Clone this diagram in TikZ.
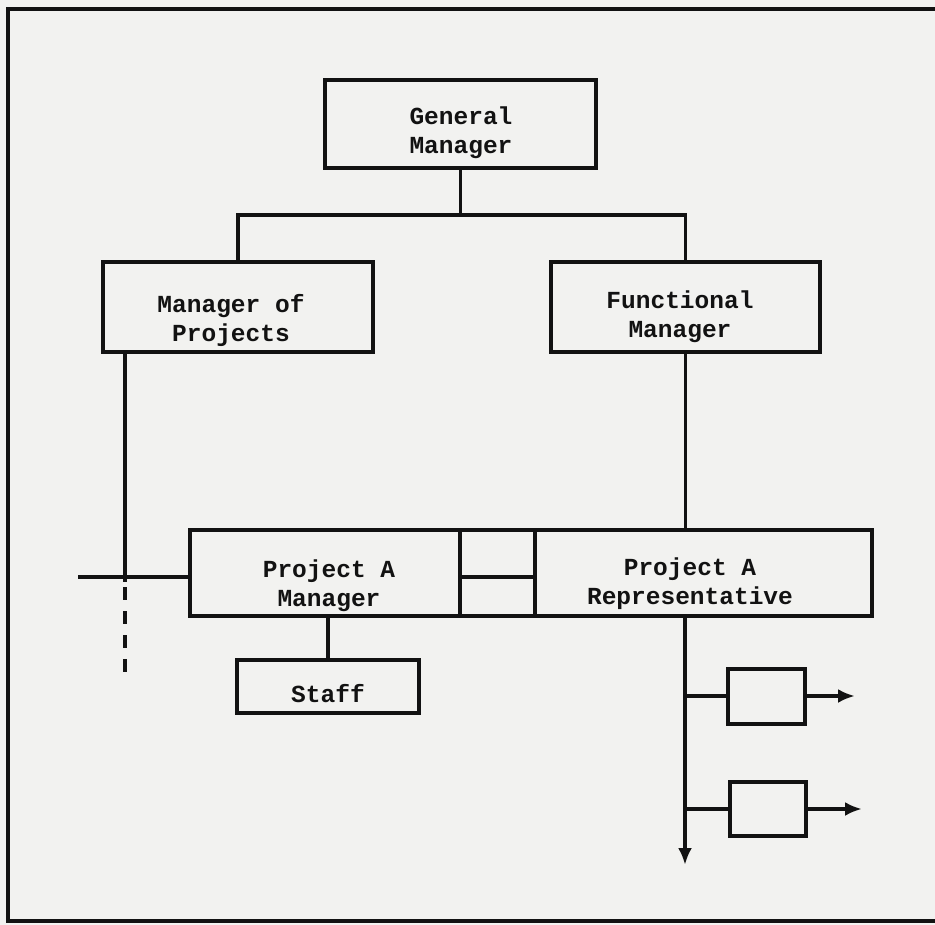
\documentclass[tikz,border=0pt]{standalone}
\usepackage{fontspec}
\setmonofont{Liberation Mono}
\usetikzlibrary{arrows.meta}
\definecolor{paper}{RGB}{242,242,240}
\definecolor{ink}{RGB}{18,18,18}
\tikzset{
	box/.style={draw=ink, line width=4pt, outer sep=0pt},
	txt/.style={font=\ttfamily\bfseries\fontsize{24.5}{29}\selectfont, align=center, text=ink},
	wire/.style={draw=ink, line width=3.6pt},
	tip/.style={-{Latex[length=17pt,width=14pt]}}
}
\begin{document}
\begin{tikzpicture}[x=1pt,y=-1pt]
			\fill[paper] (0,0) rectangle (935,925);
			\useasboundingbox (0,0) rectangle (935,925);
			\draw[ink, line width=4.5pt] (935,9) -- (8,9) -- (8,921) -- (935,921);
			\node[box, minimum width=271pt, minimum height=88pt] (gm) at (460.5,124) {};
			\node[box, minimum width=270pt, minimum height=90pt] (mop) at (238,307) {};
			\node[box, minimum width=269pt, minimum height=90pt] (fm) at (685.5,307) {};
			\node[box, minimum width=270pt, minimum height=86pt] (pam) at (325,573) {};
			\node[box, minimum width=337pt, minimum height=86pt] (par) at (703.5,573) {};
			\node[box, minimum width=182pt, minimum height=53pt] (staff) at (328,686.5) {};
			\node[box, minimum width=77pt, minimum height=55pt] (sb1) at (766.5,696) {};
			\node[box, minimum width=76pt, minimum height=54pt] (sb2) at (768,809) {};
			\node[txt] (gmtext) at (461,133) {General\\Manager};
			\node[txt] (moptext) at (231,320) {Manager of\\Projects};
			\node[txt] (fmtext) at (680,317) {Functional\\Manager};
			\node[txt] (pamtext) at (329,586) {Project A\\Manager};
			\node[txt] (partext) at (690,584) {Project A\\Representative};
			\node[txt] (stafftext) at (328,694) {Staff};
			\coordinate (split) at (460.5,215);
			\coordinate (tie) at (125,577);
			\coordinate (tieend) at (78,577);
			\coordinate (solidend) at (125,582);
			\coordinate (dashtop) at (125,587);
			\coordinate (mopend) at (125,676);
			\coordinate (repend) at (685,865);
			\coordinate (out1) at (855,696);
			\coordinate (out2) at (862,809);
			\draw[wire] (gm.south) -- (split);
			\draw[wire] (mop.north) |- (split) -| (fm.north);
			\draw[wire] (mop.south -| tie) -- (solidend);
			\draw[wire, dash pattern=on 13pt off 11pt] (dashtop) -- (mopend);
			\draw[wire] (tieend) -- (tieend -| pam.west);
			\draw[wire] (pam.east |- tieend) -- (par.west |- tieend);
			\draw[box] (pam.north east) -- (par.north west) (pam.south east) -- (par.south west);
			\draw[wire] (fm.south) -- (fm.south |- par.north);
			\draw[wire] (staff.north |- pam.south) -- (staff.north);
			\draw[wire, tip] (repend |- par.south) -- (repend);
			\draw[wire] (sb1.west -| repend) -- (sb1.west);
			\draw[wire, tip] (sb1.east) -- (out1);
			\draw[wire] (sb2.west -| repend) -- (sb2.west);
			\draw[wire, tip] (sb2.east) -- (out2);
\end{tikzpicture}
\end{document}
